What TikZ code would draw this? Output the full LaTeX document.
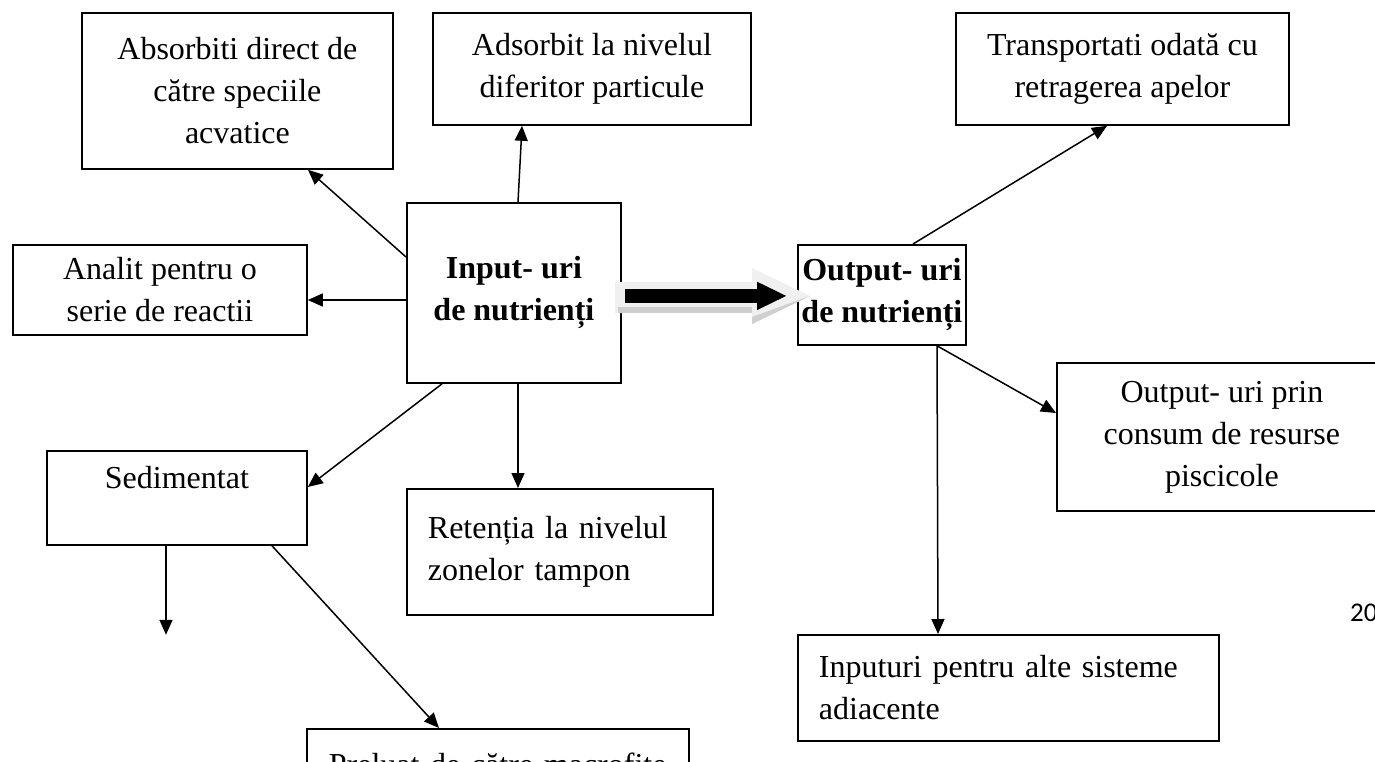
\documentclass[tikz,border=0pt]{standalone}
\usepackage{fontspec}
\setmainfont{Liberation Serif}
\newfontfamily\pagenumfont{Carlito}
\usetikzlibrary{arrows.meta, calc}

\tikzset{
  box/.style={draw, line width=1.8pt, inner sep=0pt, anchor=north west, align=center,
    font=\fontsize{32}{42}\selectfont},
  boldbox/.style={box, font=\fontsize{32}{42}\selectfont\bfseries},
  leftbox/.style={box, align=left},
  conn/.style={line width=1.5pt, -{Triangle[length=15pt, width=13pt]}},
}

\begin{document}
\begin{tikzpicture}[x=1pt, y=-1pt]
    \path[use as bounding box, fill=white] (0,0) rectangle (1375,761);
    \clip (0,0) rectangle (1375,761);

    % Central boxes
    \node[boldbox, minimum width=214pt, minimum height=180pt] (input) at (406,202) {Input- uri\\de nutrienți};
    \node[boldbox, minimum width=168pt, minimum height=100pt] (output) at (797,244) {Output- uri\\de nutrienți};

    % Where the inputs go
    \node[box, minimum width=311pt, minimum height=156pt] (absorb) at (81,12) {Absorbiti direct de\\către speciile\\acvatice};
    \node[box, minimum width=318pt, minimum height=112pt] (adsorb) at (432,12) {Adsorbit la nivelul\\diferitor particule};
    \node[box, minimum width=294pt, minimum height=90pt] (analit) at (12,244) {Analit pentru o\\serie de reactii};
    \node[box, minimum width=260pt, minimum height=94pt] (sediment) at (46,450) {Sedimentat\\\mbox{}};
    \node[leftbox, text width=264pt, inner xsep=21pt, minimum height=126pt] (retent) at (406,488) {Retenția la nivelul\\zonelor tampon};
    \node[leftbox, text width=338pt, inner xsep=22pt, minimum height=71pt] (preluat) at (306,728) {Preluat de către macrofite};

    % Where the outputs go
    \node[box, minimum width=333pt, minimum height=112pt] (transp) at (955,12) {Transportati odată cu\\retragerea apelor};
    \node[box, minimum width=330pt, minimum height=148pt] (outfish) at (1056,362) {Output- uri prin\\consum de resurse\\piscicole};
    \node[leftbox, text width=379pt, inner xsep=21pt, minimum height=106pt] (inputuri) at (797,634) {Inputuri pentru alte sisteme\\adiacente};

    \node[font=\pagenumfont\fontsize{27}{32}\selectfont, anchor=base west, inner sep=0pt] (pagenum) at (1350,621) {20};

    % Connectors from the input box
    \draw[conn] ($(input.north west)+(0,55)$) -- ($(absorb.south west)+(227,0)$);
    \draw[conn] ($(input.north west)+(112,0)$) -- ($(adsorb.south west)+(90,0)$);
    \draw[conn] ($(input.north west)+(0,98)$) -- ($(analit.north east)+(0,56)$);
    \draw[conn] ($(input.south west)+(36,0)$) -- ($(sediment.north east)+(0,37)$);
    \draw[conn] ($(input.south west)+(112,0)$) -- ($(retent.north west)+(112,0)$);

    % Connectors from the sediment box
    \coordinate (sedout) at ($(sediment.south west)+(120,89)$);
    \draw[conn] ($(sediment.south west)+(120,0)$) -- (sedout);
    \draw[conn] ($(sediment.south west)+(226,0)$) -- ($(preluat.north west)+(133,0)$);

    % Connectors from the output box
    \draw[conn] ($(output.north west)+(116,0)$) -- ($(transp.south west)+(152,0)$);
    \draw[conn] ($(output.south west)+(140,0)$) -- ($(outfish.north west)+(0,51)$);
    \draw[conn] ($(output.south west)+(140,0)$) -- ($(inputuri.north west)+(141,0)$);

    % Big shaded arrow
    \fill[gray!12] (615,282) -- (752,282) -- (752,268) -- (810,296) -- (752,324) -- (752,313) -- (615,313) -- cycle;
    \fill[gray!38] (618,307) -- (752,307) -- (752,313) -- (618,313) -- cycle;
    \fill[gray!38] (752,317) -- (804,298) -- (810,296) -- (752,324) -- cycle;
    \draw[line width=14pt, -{Triangle[length=30pt, width=26pt]}] ($(input.east)+(3,3)$) -- ($(output.west)+(-10,1)$);
\end{tikzpicture}
\end{document}
